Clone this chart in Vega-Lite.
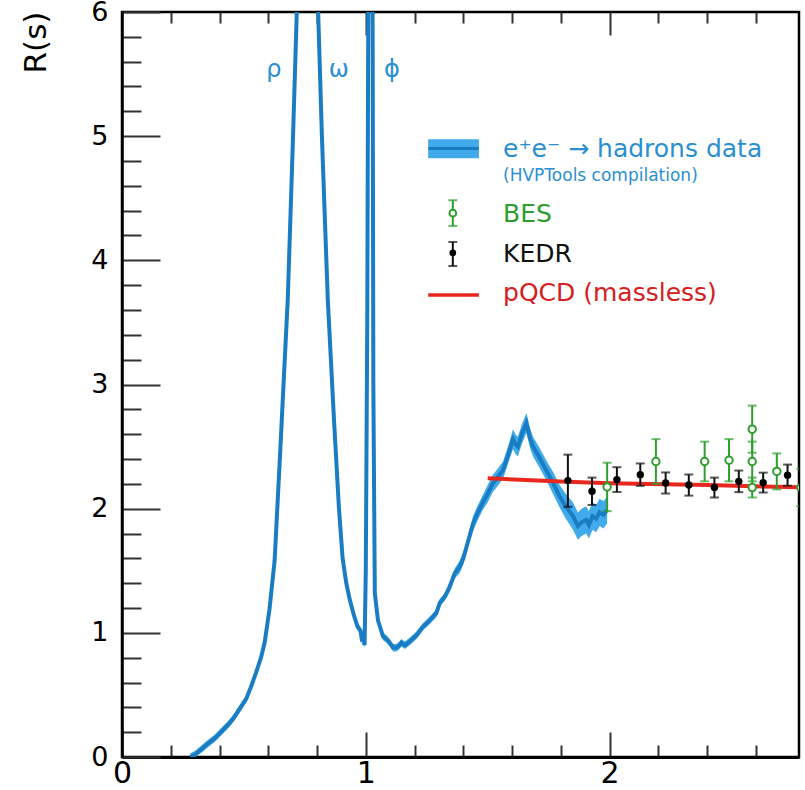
{
  "$schema": "https://vega.github.io/schema/vega-lite/v6.json",
  "width": 677,
  "height": 745,
  "autosize": "none",
  "padding": {"left": 122, "top": 12, "right": 6, "bottom": 33},
  "config": {
    "font": "DejaVu Sans",
    "view": {"stroke": "#000000", "strokeWidth": 2.5},
    "axis": {"grid": false, "domainColor": "#000000", "tickColor": "#333333", "tickWidth": 2, "labelColor": "#000000", "labelFont": "DejaVu Sans", "labelFlush": false, "labelOverlap": false, "tickCount": 200}
  },
  "datasets": {
    "curve": [
      {"x": 0.28, "y": 0, "lo": 0, "hi": 0.03},
      {"x": 0.30, "y": 0.02, "lo": 0, "hi": 0.05},
      {"x": 0.33, "y": 0.07, "lo": 0.04, "hi": 0.10},
      {"x": 0.36, "y": 0.12, "lo": 0.09, "hi": 0.15},
      {"x": 0.38, "y": 0.15, "lo": 0.12, "hi": 0.18},
      {"x": 0.41, "y": 0.21, "lo": 0.18, "hi": 0.24},
      {"x": 0.44, "y": 0.27, "lo": 0.24, "hi": 0.30},
      {"x": 0.46, "y": 0.32, "lo": 0.29, "hi": 0.35},
      {"x": 0.48, "y": 0.38, "lo": 0.35, "hi": 0.41},
      {"x": 0.51, "y": 0.47, "lo": 0.44, "hi": 0.50},
      {"x": 0.53, "y": 0.57, "lo": 0.54, "hi": 0.60},
      {"x": 0.55, "y": 0.68, "lo": 0.65, "hi": 0.71},
      {"x": 0.57, "y": 0.80, "lo": 0.77, "hi": 0.83},
      {"x": 0.585, "y": 0.92, "lo": 0.89, "hi": 0.95},
      {"x": 0.605, "y": 1.19, "lo": 1.16, "hi": 1.22},
      {"x": 0.626, "y": 1.58, "lo": 1.55, "hi": 1.61},
      {"x": 0.65, "y": 2.5, "lo": 2.46, "hi": 2.54},
      {"x": 0.68, "y": 3.69, "lo": 3.64, "hi": 3.74},
      {"x": 0.70, "y": 4.9, "lo": 4.84, "hi": 4.96},
      {"x": 0.717, "y": 6.0, "lo": 5.93, "hi": 6.07},
      {"x": 0.74, "y": 7.6, "lo": 7.5, "hi": 7.7},
      {"x": 0.76, "y": 8.9, "lo": 8.8, "hi": 9.0},
      {"x": 0.775, "y": 9.5, "lo": 9.4, "hi": 9.6},
      {"x": 0.781, "y": 11.0, "lo": 10.9, "hi": 11.1},
      {"x": 0.785, "y": 9.0, "lo": 8.9, "hi": 9.1},
      {"x": 0.79, "y": 8.3, "lo": 8.2, "hi": 8.4},
      {"x": 0.80, "y": 6.3, "lo": 6.2, "hi": 6.4},
      {"x": 0.82, "y": 5.0, "lo": 4.93, "hi": 5.07},
      {"x": 0.844, "y": 3.69, "lo": 3.64, "hi": 3.74},
      {"x": 0.87, "y": 2.7, "lo": 2.66, "hi": 2.74},
      {"x": 0.89, "y": 2.0, "lo": 1.97, "hi": 2.03},
      {"x": 0.905, "y": 1.6, "lo": 1.57, "hi": 1.63},
      {"x": 0.92, "y": 1.4, "lo": 1.37, "hi": 1.43},
      {"x": 0.934, "y": 1.27, "lo": 1.24, "hi": 1.30},
      {"x": 0.95, "y": 1.15, "lo": 1.12, "hi": 1.18},
      {"x": 0.966, "y": 1.05, "lo": 1.02, "hi": 1.08},
      {"x": 0.978, "y": 1.02, "lo": 0.99, "hi": 1.05},
      {"x": 0.985, "y": 0.93, "lo": 0.90, "hi": 0.96},
      {"x": 0.99, "y": 0.98, "lo": 0.95, "hi": 1.01},
      {"x": 0.995, "y": 0.9, "lo": 0.87, "hi": 0.93},
      {"x": 1.0, "y": 1.5, "lo": 1.46, "hi": 1.54},
      {"x": 1.006, "y": 3.5, "lo": 3.44, "hi": 3.56},
      {"x": 1.011, "y": 6.5, "lo": 6.4, "hi": 6.6},
      {"x": 1.016, "y": 20, "lo": 19.7, "hi": 20.3},
      {"x": 1.0195, "y": 45, "lo": 44.5, "hi": 45.5},
      {"x": 1.023, "y": 20, "lo": 19.7, "hi": 20.3},
      {"x": 1.027, "y": 7, "lo": 6.9, "hi": 7.1},
      {"x": 1.031, "y": 3.0, "lo": 2.95, "hi": 3.05},
      {"x": 1.037, "y": 1.32, "lo": 1.29, "hi": 1.35},
      {"x": 1.05, "y": 1.10, "lo": 1.07, "hi": 1.13},
      {"x": 1.071, "y": 0.97, "lo": 0.94, "hi": 1.0},
      {"x": 1.085, "y": 0.95, "lo": 0.92, "hi": 0.98},
      {"x": 1.098, "y": 0.92, "lo": 0.89, "hi": 0.95},
      {"x": 1.112, "y": 0.88, "lo": 0.85, "hi": 0.91},
      {"x": 1.126, "y": 0.88, "lo": 0.85, "hi": 0.91},
      {"x": 1.138, "y": 0.9, "lo": 0.87, "hi": 0.93},
      {"x": 1.146, "y": 0.92, "lo": 0.89, "hi": 0.95},
      {"x": 1.16, "y": 0.90, "lo": 0.87, "hi": 0.93},
      {"x": 1.18, "y": 0.93, "lo": 0.90, "hi": 0.96},
      {"x": 1.208, "y": 0.98, "lo": 0.95, "hi": 1.01},
      {"x": 1.235, "y": 1.05, "lo": 1.02, "hi": 1.08},
      {"x": 1.262, "y": 1.10, "lo": 1.07, "hi": 1.13},
      {"x": 1.29, "y": 1.16, "lo": 1.13, "hi": 1.19},
      {"x": 1.303, "y": 1.24, "lo": 1.21, "hi": 1.27},
      {"x": 1.324, "y": 1.29, "lo": 1.26, "hi": 1.32},
      {"x": 1.344, "y": 1.37, "lo": 1.33, "hi": 1.41},
      {"x": 1.365, "y": 1.48, "lo": 1.44, "hi": 1.52},
      {"x": 1.385, "y": 1.53, "lo": 1.48, "hi": 1.58},
      {"x": 1.40, "y": 1.60, "lo": 1.55, "hi": 1.65},
      {"x": 1.42, "y": 1.74, "lo": 1.69, "hi": 1.79},
      {"x": 1.44, "y": 1.88, "lo": 1.82, "hi": 1.94},
      {"x": 1.46, "y": 1.97, "lo": 1.91, "hi": 2.03},
      {"x": 1.48, "y": 2.05, "lo": 1.99, "hi": 2.11},
      {"x": 1.50, "y": 2.12, "lo": 2.05, "hi": 2.19},
      {"x": 1.52, "y": 2.20, "lo": 2.13, "hi": 2.27},
      {"x": 1.54, "y": 2.25, "lo": 2.18, "hi": 2.32},
      {"x": 1.563, "y": 2.31, "lo": 2.24, "hi": 2.38},
      {"x": 1.585, "y": 2.44, "lo": 2.37, "hi": 2.51},
      {"x": 1.604, "y": 2.56, "lo": 2.48, "hi": 2.64},
      {"x": 1.614, "y": 2.52, "lo": 2.44, "hi": 2.60},
      {"x": 1.624, "y": 2.50, "lo": 2.42, "hi": 2.58},
      {"x": 1.64, "y": 2.60, "lo": 2.52, "hi": 2.68},
      {"x": 1.659, "y": 2.69, "lo": 2.61, "hi": 2.77},
      {"x": 1.672, "y": 2.58, "lo": 2.50, "hi": 2.66},
      {"x": 1.686, "y": 2.50, "lo": 2.42, "hi": 2.58},
      {"x": 1.71, "y": 2.42, "lo": 2.34, "hi": 2.50},
      {"x": 1.74, "y": 2.31, "lo": 2.23, "hi": 2.39},
      {"x": 1.77, "y": 2.20, "lo": 2.11, "hi": 2.29},
      {"x": 1.795, "y": 2.10, "lo": 2.01, "hi": 2.19},
      {"x": 1.82, "y": 2.02, "lo": 1.92, "hi": 2.12},
      {"x": 1.85, "y": 1.94, "lo": 1.83, "hi": 2.05},
      {"x": 1.87, "y": 1.86, "lo": 1.75, "hi": 1.97},
      {"x": 1.885, "y": 1.89, "lo": 1.78, "hi": 2.00},
      {"x": 1.904, "y": 1.91, "lo": 1.80, "hi": 2.02},
      {"x": 1.915, "y": 1.87, "lo": 1.76, "hi": 1.98},
      {"x": 1.93, "y": 1.94, "lo": 1.83, "hi": 2.05},
      {"x": 1.945, "y": 1.92, "lo": 1.81, "hi": 2.03},
      {"x": 1.959, "y": 1.97, "lo": 1.86, "hi": 2.08},
      {"x": 1.975, "y": 1.95, "lo": 1.84, "hi": 2.06},
      {"x": 1.99, "y": 1.99, "lo": 1.88, "hi": 2.10}
    ],
    "pqcd": [
      {"x": 1.5, "y": 2.245},
      {"x": 1.8, "y": 2.218},
      {"x": 2.0, "y": 2.205},
      {"x": 2.4, "y": 2.19},
      {"x": 2.777, "y": 2.172}
    ],
    "kedr": [
      {"x": 1.829, "y": 2.226, "lo": 2.015, "hi": 2.435},
      {"x": 1.928, "y": 2.14, "lo": 2.03, "hi": 2.25},
      {"x": 2.03, "y": 2.234, "lo": 2.134, "hi": 2.334},
      {"x": 2.126, "y": 2.274, "lo": 2.184, "hi": 2.364},
      {"x": 2.23, "y": 2.207, "lo": 2.122, "hi": 2.292},
      {"x": 2.325, "y": 2.19, "lo": 2.105, "hi": 2.275},
      {"x": 2.43, "y": 2.17, "lo": 2.09, "hi": 2.25},
      {"x": 2.53, "y": 2.22, "lo": 2.133, "hi": 2.307},
      {"x": 2.63, "y": 2.21, "lo": 2.13, "hi": 2.29},
      {"x": 2.73, "y": 2.27, "lo": 2.185, "hi": 2.355}
    ],
    "bes": [
      {"x": 1.99, "y": 2.175, "lo": 1.98, "hi": 2.37},
      {"x": 2.19, "y": 2.38, "lo": 2.2, "hi": 2.56},
      {"x": 2.39, "y": 2.38, "lo": 2.22, "hi": 2.54},
      {"x": 2.49, "y": 2.39, "lo": 2.22, "hi": 2.56},
      {"x": 2.585, "y": 2.64, "lo": 2.45, "hi": 2.83},
      {"x": 2.585, "y": 2.38, "lo": 2.22, "hi": 2.54},
      {"x": 2.585, "y": 2.17, "lo": 2.09, "hi": 2.25},
      {"x": 2.686, "y": 2.3, "lo": 2.155, "hi": 2.445},
      {"x": 2.785, "y": 2.17, "lo": 2.02, "hi": 2.32}
    ],
    "greek": [
      {"label": "ρ", "x": 0.623, "y": 5.53},
      {"label": "ω", "x": 0.889, "y": 5.53},
      {"label": "ϕ", "x": 1.107, "y": 5.53}
    ],
    "legsym": [
      {"item": "hadrons", "x": 1.256, "x2": 1.464, "y": 4.9, "lo": 4.823, "hi": 4.976},
      {"item": "bes", "x": 1.357, "x2": 1.357, "y": 4.38, "lo": 4.277, "hi": 4.484},
      {"item": "kedr", "x": 1.357, "x2": 1.357, "y": 4.06, "lo": 3.954, "hi": 4.148},
      {"item": "pqcd", "x": 1.256, "x2": 1.464, "y": 3.72, "lo": 3.72, "hi": 3.72}
    ],
    "legtext": [
      {"item": "hadrons", "label": "e⁺e⁻ → hadrons data", "x": 1.563, "y": 4.9},
      {"item": "hvp", "label": "(HVPTools compilation)", "x": 1.563, "y": 4.68},
      {"item": "bes", "label": "BES", "x": 1.563, "y": 4.375},
      {"item": "kedr", "label": "KEDR", "x": 1.563, "y": 4.05},
      {"item": "pqcd", "label": "pQCD (massless)", "x": 1.563, "y": 3.735}
    ]
  },
  "layer": [
    {
      "layer": [
        {
          "data": {"name": "curve"},
          "mark": {"type": "area", "color": "#41aaea", "clip": true},
          "encoding": {
            "x": {"field": "x", "type": "quantitative", "scale": {"domain": [0, 2.777], "nice": false, "zero": false},
              "axis": {"orient": "bottom", "title": null, "values": [0, 0.2, 0.4, 0.6, 0.8, 1, 1.2, 1.4, 1.6, 1.8, 2, 2.2, 2.4, 2.6],
                "tickCount": 200, "format": ".0f",
                "tickSize": {"condition": {"test": "datum.value % 1 === 0", "value": -25}, "value": -12},
                "labelExpr": "datum.value % 1 === 0 ? datum.label : ''",
                "labelPadding": 26, "labelFontSize": 30, "domainWidth": 3}},
            "y": {"field": "lo", "type": "quantitative", "scale": {"domain": [0, 6], "nice": false, "zero": false},
              "axis": {"orient": "left", "title": "R(s)", "values": [0, 0.2, 0.4, 0.6, 0.8, 1, 1.2, 1.4, 1.6, 1.8, 2, 2.2, 2.4, 2.6, 2.8, 3, 3.2, 3.4, 3.6, 3.8, 4, 4.2, 4.4, 4.6, 4.8, 5, 5.2, 5.4, 5.6, 5.8, 6],
                "tickCount": 200, "format": ".0f",
                "tickSize": {"condition": {"test": "datum.value % 1 === 0", "value": -38}, "value": -19},
                "labelExpr": "datum.value % 1 === 0 ? datum.label : ''",
                "labelPadding": 52, "labelFontSize": 27, "domainWidth": 2.5,
                "titleFontSize": 31, "titleFontWeight": "normal", "titleColor": "#000000", "titleAngle": -90,
                "titleX": -86, "titleY": 30, "titleAlign": "center", "titleBaseline": "middle"}},
            "y2": {"field": "hi"}
          }
        },
        {
          "data": {"name": "curve"},
          "mark": {"type": "line", "color": "#1a7dc3", "strokeWidth": 4, "clip": true},
          "encoding": {
            "x": {"field": "x", "type": "quantitative"},
            "y": {"field": "y", "type": "quantitative"}
          }
        },
        {
          "data": {"name": "pqcd"},
          "mark": {"type": "line", "color": "#e8281e", "strokeWidth": 4, "clip": true},
          "encoding": {
            "x": {"field": "x", "type": "quantitative"},
            "y": {"field": "y", "type": "quantitative"}
          }
        },
        {
          "data": {"name": "bes"},
          "mark": {"type": "rule", "color": "#2e9e2e", "strokeWidth": 2, "clip": true},
          "encoding": {
            "x": {"field": "x", "type": "quantitative"},
            "y": {"field": "lo", "type": "quantitative"},
            "y2": {"field": "hi"}
          }
        },
        {
          "data": {"name": "bes"},
          "mark": {"type": "tick", "orient": "horizontal", "color": "#2e9e2e", "size": 9, "thickness": 2, "clip": true},
          "encoding": {
            "x": {"field": "x", "type": "quantitative"},
            "y": {"field": "lo", "type": "quantitative"}
          }
        },
        {
          "data": {"name": "bes"},
          "mark": {"type": "tick", "orient": "horizontal", "color": "#2e9e2e", "size": 9, "thickness": 2, "clip": true},
          "encoding": {
            "x": {"field": "x", "type": "quantitative"},
            "y": {"field": "hi", "type": "quantitative"}
          }
        },
        {
          "data": {"name": "kedr"},
          "mark": {"type": "rule", "color": "#111111", "strokeWidth": 2, "clip": true},
          "encoding": {
            "x": {"field": "x", "type": "quantitative"},
            "y": {"field": "lo", "type": "quantitative"},
            "y2": {"field": "hi"}
          }
        },
        {
          "data": {"name": "kedr"},
          "mark": {"type": "tick", "orient": "horizontal", "color": "#111111", "size": 9, "thickness": 2, "clip": true},
          "encoding": {
            "x": {"field": "x", "type": "quantitative"},
            "y": {"field": "lo", "type": "quantitative"}
          }
        },
        {
          "data": {"name": "kedr"},
          "mark": {"type": "tick", "orient": "horizontal", "color": "#111111", "size": 9, "thickness": 2, "clip": true},
          "encoding": {
            "x": {"field": "x", "type": "quantitative"},
            "y": {"field": "hi", "type": "quantitative"}
          }
        },
        {
          "data": {"name": "bes"},
          "mark": {"type": "point", "shape": "circle", "filled": true, "fill": "#ffffff", "stroke": "#2e9e2e", "strokeWidth": 2, "size": 55, "opacity": 1, "clip": true},
          "encoding": {
            "x": {"field": "x", "type": "quantitative"},
            "y": {"field": "y", "type": "quantitative"}
          }
        },
        {
          "data": {"name": "kedr"},
          "mark": {"type": "circle", "color": "#000000", "size": 55, "opacity": 1, "clip": true},
          "encoding": {
            "x": {"field": "x", "type": "quantitative"},
            "y": {"field": "y", "type": "quantitative"}
          }
        },
        {
          "data": {"name": "legsym"},
          "transform": [{"filter": "datum.item === 'hadrons'"}],
          "mark": {"type": "rect", "color": "#41aaea"},
          "encoding": {
            "x": {"field": "x", "type": "quantitative"},
            "x2": {"field": "x2"},
            "y": {"field": "lo", "type": "quantitative"},
            "y2": {"field": "hi"}
          }
        },
        {
          "data": {"name": "legsym"},
          "transform": [{"filter": "datum.item === 'hadrons'"}],
          "mark": {"type": "rule", "color": "#1a7dc3", "strokeWidth": 3},
          "encoding": {
            "x": {"field": "x", "type": "quantitative"},
            "x2": {"field": "x2"},
            "y": {"field": "y", "type": "quantitative"}
          }
        },
        {
          "data": {"name": "legsym"},
          "transform": [{"filter": "datum.item === 'pqcd'"}],
          "mark": {"type": "rule", "color": "#e8281e", "strokeWidth": 3.5},
          "encoding": {
            "x": {"field": "x", "type": "quantitative"},
            "x2": {"field": "x2"},
            "y": {"field": "y", "type": "quantitative"}
          }
        },
        {
          "data": {"name": "legsym"},
          "transform": [{"filter": "datum.item === 'bes' || datum.item === 'kedr'"}],
          "mark": {"type": "rule", "strokeWidth": 2},
          "encoding": {
            "x": {"field": "x", "type": "quantitative"},
            "y": {"field": "lo", "type": "quantitative"},
            "y2": {"field": "hi"},
            "color": {"field": "item", "type": "nominal", "legend": null,
              "scale": {"domain": ["hadrons", "hvp", "bes", "kedr", "pqcd"], "range": ["#2a8fd0", "#2a8fd0", "#2e9e2e", "#111111", "#d42020"]}}
          }
        },
        {
          "data": {"name": "legsym"},
          "transform": [{"filter": "datum.item === 'bes' || datum.item === 'kedr'"}],
          "mark": {"type": "tick", "orient": "horizontal", "size": 9, "thickness": 2},
          "encoding": {
            "x": {"field": "x", "type": "quantitative"},
            "y": {"field": "lo", "type": "quantitative"},
            "color": {"field": "item", "type": "nominal", "legend": null}
          }
        },
        {
          "data": {"name": "legsym"},
          "transform": [{"filter": "datum.item === 'bes' || datum.item === 'kedr'"}],
          "mark": {"type": "tick", "orient": "horizontal", "size": 9, "thickness": 2},
          "encoding": {
            "x": {"field": "x", "type": "quantitative"},
            "y": {"field": "hi", "type": "quantitative"},
            "color": {"field": "item", "type": "nominal", "legend": null}
          }
        },
        {
          "data": {"name": "legsym"},
          "transform": [{"filter": "datum.item === 'bes'"}],
          "mark": {"type": "point", "shape": "circle", "filled": true, "fill": "#ffffff", "stroke": "#2e9e2e", "strokeWidth": 2, "size": 45, "opacity": 1},
          "encoding": {
            "x": {"field": "x", "type": "quantitative"},
            "y": {"field": "y", "type": "quantitative"}
          }
        },
        {
          "data": {"name": "legsym"},
          "transform": [{"filter": "datum.item === 'kedr'"}],
          "mark": {"type": "circle", "color": "#000000", "size": 45, "opacity": 1},
          "encoding": {
            "x": {"field": "x", "type": "quantitative"},
            "y": {"field": "y", "type": "quantitative"}
          }
        },
        {
          "data": {"name": "legtext"},
          "transform": [{"filter": "datum.item !== 'hvp'"}],
          "mark": {"type": "text", "align": "left", "baseline": "middle", "fontSize": 25},
          "encoding": {
            "x": {"field": "x", "type": "quantitative"},
            "y": {"field": "y", "type": "quantitative"},
            "text": {"field": "label"},
            "color": {"field": "item", "type": "nominal", "legend": null}
          }
        },
        {
          "data": {"name": "legtext"},
          "transform": [{"filter": "datum.item === 'hvp'"}],
          "mark": {"type": "text", "align": "left", "baseline": "middle", "fontSize": 17},
          "encoding": {
            "x": {"field": "x", "type": "quantitative"},
            "y": {"field": "y", "type": "quantitative"},
            "text": {"field": "label"},
            "color": {"field": "item", "type": "nominal", "legend": null}
          }
        }
      ]
    },
    {
      "data": {"name": "greek"},
      "mark": {"type": "text", "align": "center", "baseline": "middle", "fontSize": 24, "color": "#2a8fd0"},
      "encoding": {
        "x": {"field": "x", "type": "quantitative",
          "axis": {"orient": "top", "title": null, "labels": false, "domain": false, "tickCount": 200,
            "values": [0.2, 0.4, 0.6, 0.8, 1, 1.2, 1.4, 1.6, 1.8, 2, 2.2, 2.4, 2.6],
            "tickSize": {"condition": {"test": "datum.value % 1 === 0", "value": -23}, "value": -11}}},
        "y": {"field": "y", "type": "quantitative"},
        "text": {"field": "label"}
      }
    }
  ],
  "resolve": {"axis": {"x": "independent"}}
}
